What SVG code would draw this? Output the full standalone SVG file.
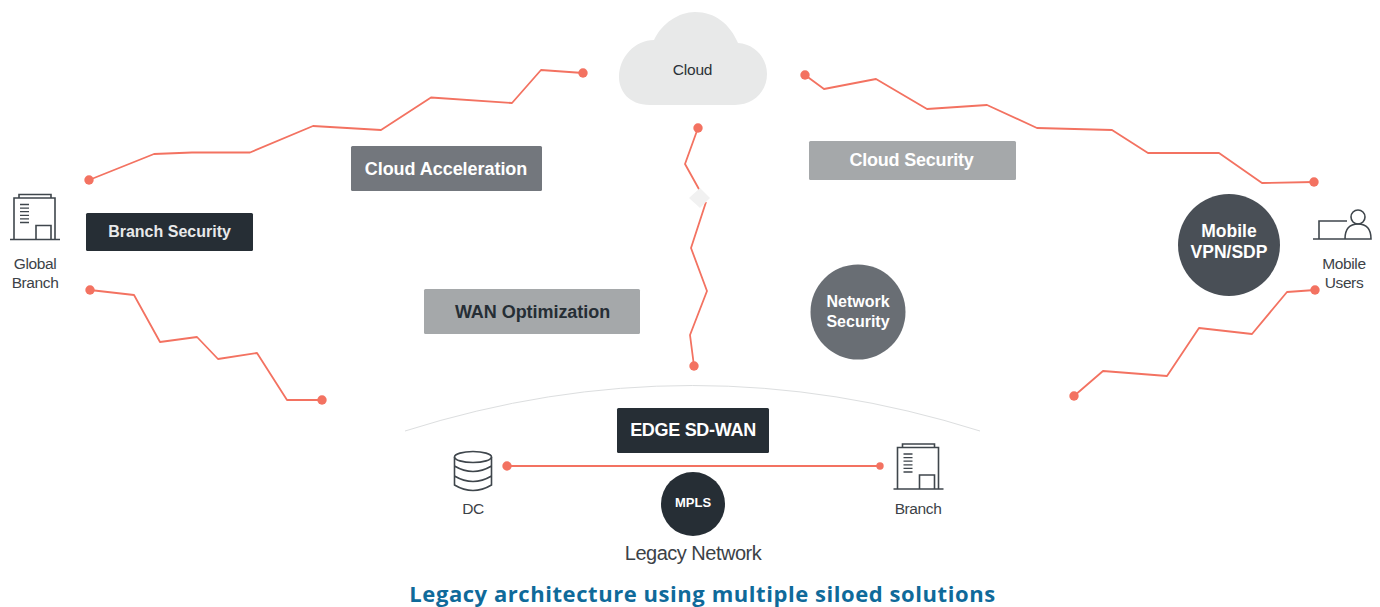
<svg xmlns="http://www.w3.org/2000/svg" width="1380" height="607" viewBox="0 0 1380 607">
<style>
text{font-family:"Liberation Sans",Arial,sans-serif;text-anchor:middle}
.lbl{font-size:15.500px;fill:#3c4247;letter-spacing:-.4px}
.w{font-weight:700;fill:#fff}
.c{fill:none;stroke:#f37261;stroke-width:1.800;stroke-linejoin:round}
.d{fill:#f37261}
.ic{fill:none;stroke:#3f464c;stroke-width:1.600}
</style>
<defs>
<g id="bld" class="ic">
<path d="M-4 45H46M0 45V3.500H41V45M5 3.500V0H37V3.500M22 45V31H37V45"/>
<path d="M6 10H15M6 13.600H15M6 17.200H15M6 20.800H15M6 24.400H15M6 28H15" stroke-width="1.300"/>
</g>
</defs>
<rect width="1380" height="607" fill="#fff"/>
<g id="connectors">
<path class="c" d="M89 180L154 154L192 152.500L250 152.500L313 126L381 130L431 97.500L512 103L541 70L583 73"/>
<path class="c" d="M90 290L134 295L160 342L197 337L218 359L257 353L287 400L322 400"/>
<path class="c" d="M805 75L824 89L876 79L927 109L987 105L1037 128L1112 130L1148 153L1219 153L1262 183L1314 182"/>
<path class="c" d="M1074 396L1103 371L1167 376L1199 328L1252 334L1287 292L1315 290"/>
<path class="c" d="M698 128L685 164L700 191M706 202L691 248L707 291L690 335L694 366"/>
<path class="c" d="M507 466H880"/>
<path d="M405 431Q692 340 980 431" fill="none" stroke="#dcdedf" stroke-width="1"/>
<g class="d"><circle cx="89" cy="180" r="4.700"/><circle cx="583" cy="73" r="4.700"/><circle cx="90" cy="290" r="4.700"/><circle cx="322" cy="400" r="4.700"/><circle cx="805" cy="75" r="4.700"/><circle cx="1314" cy="182" r="4.700"/><circle cx="1074" cy="396" r="4.700"/><circle cx="1315" cy="290" r="4.700"/><circle cx="698" cy="128" r="4.700"/><circle cx="694" cy="366" r="4.700"/><circle cx="507" cy="466" r="4.700"/><circle cx="880" cy="466" r="3.700"/></g>
</g>
<g id="diamond"><path d="M700 188L710 198L700 208L689 198Z" fill="#f1f1f1"/></g>
<g id="cloud"><path d="M650 105C628 105 619 90 619 77C619 57 635 40 654 40C662 23 679 12 695 12C715 12 730 24 738 43C755 44 767 58 767 74C767 92 753 105 735 105Z" fill="#e8e9e9"/><text x="692.500" y="74.500" font-size="15.500" fill="#2b3238" letter-spacing="-.2">Cloud</text></g>
<g id="global-branch"><use href="#bld" transform="translate(14 194.500)"/><text class="lbl" x="35" y="269">Global</text><text class="lbl" x="35" y="288">Branch</text></g>
<g id="branch-security"><rect x="86" y="213" width="167" height="38" rx="1.500" fill="#262e35"/><text x="169.500" y="237" font-size="16" font-weight="700" fill="#e8e9ea">Branch Security</text></g>
<g id="cloud-acceleration"><rect x="351" y="146" width="191" height="45" rx="1.500" fill="#73777d"/><text class="w" x="446" y="174.500" font-size="18" letter-spacing="-.05">Cloud Acceleration</text></g>
<g id="cloud-security"><rect x="809" y="141" width="207" height="39" rx="1.500" fill="#a5a8aa"/><text class="w" x="911.500" y="166" font-size="18" letter-spacing="-.2">Cloud Security</text></g>
<g id="wan-optimization"><rect x="424" y="289" width="216" height="45" rx="1.500" fill="#a5a8aa"/><text x="532.500" y="318" font-size="18" font-weight="700" fill="#262e35" letter-spacing="-.05">WAN Optimization</text></g>
<g id="network-security"><circle cx="858" cy="312" r="47.500" fill="#696e74"/><text class="w" x="858" y="307" font-size="16">Network</text><text class="w" x="858" y="327" font-size="16">Security</text></g>
<g id="mobile-vpn"><circle cx="1229" cy="245" r="51" fill="#494f56"/><text class="w" x="1229" y="237" font-size="17.500">Mobile</text><text class="w" x="1229" y="258" font-size="17.500">VPN/SDP</text></g>
<g id="mobile-users"><g class="ic"><path d="M1313 239H1371M1319 239V221H1347M1345 239H1371C1371 229 1366 224 1358 224C1350 224 1345 229 1345 239Z"/><circle cx="1358" cy="217" r="7"/></g><text class="lbl" x="1344" y="269">Mobile</text><text class="lbl" x="1344" y="288">Users</text></g>
<g id="edge-sd-wan"><rect x="617" y="408" width="152" height="45" rx="1.500" fill="#262e35"/><text class="w" x="693" y="436" font-size="18" letter-spacing="-.3">EDGE SD-WAN</text></g>
<g id="dc"><g class="ic"><ellipse cx="473" cy="457" rx="18.500" ry="5.500"/><path d="M454.500 457V485Q473 496 491.500 485V457M454.500 466Q473 477 491.500 466M454.500 476Q473 487 491.500 476"/></g><text class="lbl" x="473" y="514">DC</text></g>
<g id="branch"><use href="#bld" transform="translate(897.500 444)"/><text class="lbl" x="918" y="514">Branch</text></g>
<g id="mpls"><circle cx="693" cy="504" r="32" fill="#262e35"/><text class="w" x="693" y="507" font-size="13">MPLS</text></g>
<text x="693" y="560" font-size="20" fill="#3c4247" letter-spacing="-.5">Legacy Network</text>
<text x="702.500" y="602" style="font-family:'Open Sans',sans-serif" font-size="22" font-weight="700" fill="#0f6a9a" letter-spacing=".56">Legacy architecture using multiple siloed solutions</text>
</svg>
